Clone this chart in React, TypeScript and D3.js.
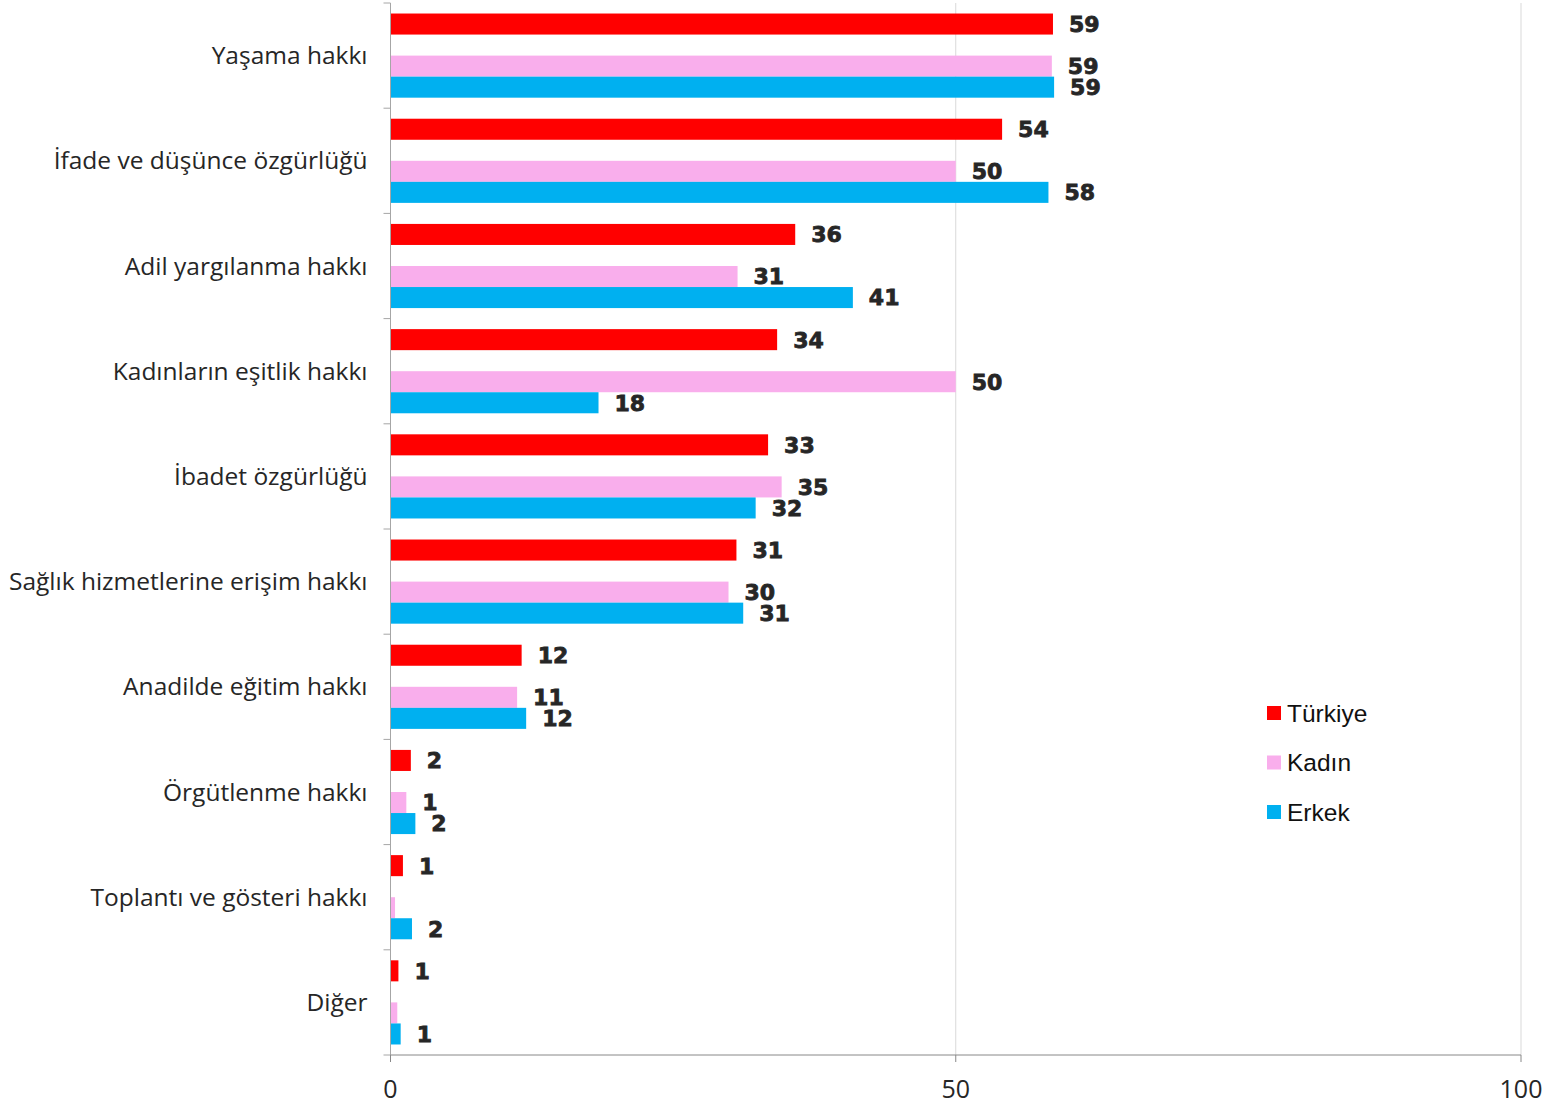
import { useEffect, useRef } from 'react';
import * as d3 from 'd3';

const categories = [
  'Yaşama hakkı',
  'İfade ve düşünce özgürlüğü',
  'Adil yargılanma hakkı',
  'Kadınların eşitlik hakkı',
  'İbadet özgürlüğü',
  'Sağlık hizmetlerine erişim hakkı',
  'Anadilde eğitim hakkı',
  'Örgütlenme hakkı',
  'Toplantı ve gösteri hakkı',
  'Diğer',
];

const seriesNames = ['Türkiye', 'Kadın', 'Erkek'];
const seriesColors = ['#ff0000', '#f9aeec', '#00b0f0'];

// values (labels are rounded)
const turkiye = [58.6, 54.1, 35.8, 34.2, 33.4, 30.6, 11.6, 1.8, 1.1, 0.7];
const kadin = [58.5, 50.0, 30.7, 50.0, 34.6, 29.9, 11.2, 1.4, 0.4, 0.6];
const erkek = [58.7, 58.2, 40.9, 18.4, 32.3, 31.2, 12.0, 2.2, 1.9, 0.9];

// the labels printed next to each bar (null = no label)
const turkiyeLabels = ['59', '54', '36', '34', '33', '31', '12', '2', '1', '1'];
const kadinLabels = ['59', '50', '31', '50', '35', '30', '11', '1', null, '1'];
const erkekLabels = ['59', '58', '41', '18', '32', '31', '12', '2', '2', '1'];

const xTicks = [0, 50, 100];

const App = () => {
  const ref = useRef(null);

  useEffect(() => {
    const width = 1545;
    const height = 1102;
    const margin = { top: 3, right: 24, bottom: 47, left: 390.5 };

    d3.select(ref.current).selectAll('svg').remove();

    const svg = d3.select(ref.current)
      .append('svg')
      .attr('width', width)
      .attr('height', height)
      .style('display', 'block');

    const x = d3.scaleLinear()
      .domain([0, 100])
      .range([margin.left, margin.left + 1130.5]);

    const y = d3.scaleBand()
      .domain(categories)
      .range([margin.top, height - margin.bottom])
      .padding(0);

    // red slot, an empty slot, then pink and blue stacked together
    const slot = d3.scaleBand()
      .domain(['Türkiye', '_gap', 'Kadın', 'Erkek'])
      .range([0, y.bandwidth()])
      .paddingInner(0)
      .paddingOuter(0.5);

    // grid lines
    svg.append('g')
      .selectAll('line')
      .data(xTicks.slice(1))
      .join('line')
      .attr('x1', d => x(d))
      .attr('x2', d => x(d))
      .attr('y1', margin.top)
      .attr('y2', height - margin.bottom)
      .attr('stroke', '#d9d9d9')
      .attr('stroke-width', 1);

    const values = [turkiye, kadin, erkek];
    const labels = [turkiyeLabels, kadinLabels, erkekLabels];

    seriesNames.forEach((name, si) => {
      const g = svg.append('g');
      g.selectAll('rect')
        .data(categories)
        .join('rect')
        .attr('x', x(0))
        .attr('y', d => y(d) + slot(name))
        .attr('width', (d, i) => x(values[si][i]) - x(0))
        .attr('height', slot.bandwidth())
        .attr('fill', seriesColors[si]);

      g.selectAll('text')
        .data(categories)
        .join('text')
        .filter((d, i) => labels[si][i] !== null)
        .attr('x', (d, i) => x(values[si][i]) + 16)
        .attr('y', d => y(d) + slot(name) + slot.bandwidth() / 2)
        .attr('dy', '0.36em')
        .attr('font-family', '"DejaVu Sans", sans-serif')
        .attr('font-weight', 'bold')
        .attr('font-size', 22)
        .attr('fill', '#262626')
        .attr('stroke', '#262626')
        .attr('stroke-width', 0.8)
        .text((d, i) => labels[si][i]);
    });

    // left axis
    const axisColor = '#a6a6a6';
    svg.append('line')
      .attr('x1', x(0)).attr('x2', x(0))
      .attr('y1', margin.top).attr('y2', height - margin.bottom)
      .attr('stroke', axisColor);

    const bounds = categories.map(c => y(c)).concat([y.range()[1]]);
    svg.append('g')
      .selectAll('line')
      .data(bounds)
      .join('line')
      .attr('x1', x(0) - 7)
      .attr('x2', x(0))
      .attr('y1', d => d)
      .attr('y2', d => d)
      .attr('stroke', axisColor);

    svg.append('g')
      .selectAll('text')
      .data(categories)
      .join('text')
      .attr('x', x(0) - 23)
      .attr('y', d => y(d) + y.bandwidth() / 2)
      .attr('dy', '0.35em')
      .attr('text-anchor', 'end')
      .attr('font-family', '"Open Sans", sans-serif')
      .attr('font-size', 24.5)
      .attr('fill', '#262626')
      .text(d => d);

    // bottom axis
    const yb = height - margin.bottom;
    svg.append('line')
      .attr('x1', x(0)).attr('x2', x(100))
      .attr('y1', yb).attr('y2', yb)
      .attr('stroke', '#888888');

    svg.append('g')
      .selectAll('line')
      .data(xTicks)
      .join('line')
      .attr('x1', d => x(d)).attr('x2', d => x(d))
      .attr('y1', yb).attr('y2', yb + 7)
      .attr('stroke', '#888888');

    svg.append('g')
      .selectAll('text')
      .data(xTicks)
      .join('text')
      .attr('x', d => x(d))
      .attr('y', yb + 43)
      .attr('text-anchor', 'middle')
      .attr('font-family', '"Open Sans", sans-serif')
      .attr('font-size', 25)
      .attr('fill', '#262626')
      .text(d => d);

    // legend
    const legend = svg.append('g').attr('transform', 'translate(1267,706)');
    seriesNames.forEach((name, i) => {
      legend.append('rect')
        .attr('x', 0)
        .attr('y', i * 49.5)
        .attr('width', 14)
        .attr('height', 14)
        .attr('fill', seriesColors[i]);
      legend.append('text')
        .attr('x', 20)
        .attr('y', i * 49.5 + 7)
        .attr('dy', '0.36em')
        .attr('font-family', '"Liberation Sans", Arial, sans-serif')
        .attr('font-size', 24.5)
        .attr('fill', '#111111')
        .text(name);
    });
  }, []);

  return <div ref={ref} style={{ position: 'absolute', left: 0, top: 0 }}></div>;
};

export default App;
